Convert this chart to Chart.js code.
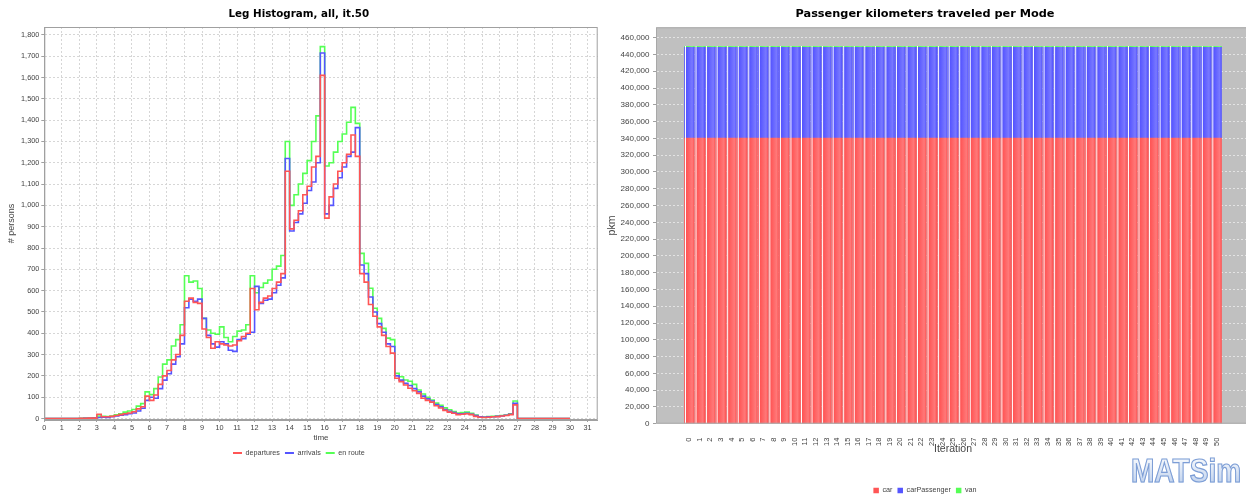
<!DOCTYPE html>
<html>
<head>
<meta charset="utf-8">
<script src="https://cdn.jsdelivr.net/npm/chart.js@4.4.1/dist/chart.umd.min.js"></script>
<style>
  html, body { margin:0; padding:0; background:#fff; width:1246px; height:496px; overflow:hidden; position:relative; }
  canvas { position:absolute; top:0; }
  #logo {
    position:absolute; left:1131px; top:453.7px; font: bold 33px "Liberation Sans", Arial, sans-serif;
    line-height:33px; transform:scaleX(0.85); transform-origin:0 0; white-space:nowrap;
    background: linear-gradient(#ffffff, #b9cdeb); -webkit-background-clip:text; background-clip:text;
    color:transparent; -webkit-text-stroke:1.2px #7d9ed6;
  }
</style>
</head>
<body>
<canvas id="leg" width="604" height="470" style="left:0px"></canvas>
<canvas id="pkm" width="654" height="504" style="left:600px"></canvas>
<div id="logo">MATSim</div>
<script>
// ---------- Leg histogram data (15-minute bins, hours 0..30) ----------
const BIN_HOURS = 0.25;
const departures = [
  0,0,0,0,0,0,0,0,1,1,2,2,
  20,8,8,10,14,18,22,26,32,45,55,105,
  85,110,160,200,225,275,300,390,550,565,545,540,
  420,380,330,360,350,345,340,345,365,385,400,610,
  510,545,565,575,610,640,680,1160,890,930,975,1050,
  1090,1180,1230,1610,940,1040,1100,1160,1200,1240,1330,1230,
  680,640,535,480,430,390,338,307,189,173,157,142,
  130,118,95,85,77,60,49,38,30,25,18,20,
  22,18,10,6,5,6,8,9,12,14,18,64,
  0,0,0,0,0,0,0,0,0,0,0,0,0
];
const arrivals = [
  0,0,0,0,0,0,0,0,0,1,1,2,
  5,6,5,8,12,15,18,22,26,35,48,85,
  100,95,140,180,210,255,290,350,520,560,550,560,
  470,390,350,335,360,350,320,315,370,375,395,405,
  620,540,555,560,590,625,660,1220,880,920,960,1010,
  1070,1110,1200,1715,960,1000,1080,1130,1180,1230,1250,1365,
  720,680,570,500,445,405,350,338,200,180,165,155,
  140,125,105,92,82,66,55,42,34,28,22,22,
  24,20,14,8,6,8,8,10,12,15,20,71,
  0,0,0,0,0,0,0,0,0,0,0,0,0
];
const enRoute = [
  0,0,0,0,0,0,0,0,1,2,2,3,
  12,10,9,12,17,22,30,35,42,58,70,125,
  112,140,195,255,275,340,370,440,670,640,645,610,
  470,415,400,395,430,380,360,385,410,415,440,670,
  590,615,635,650,700,715,765,1300,1000,1050,1100,1150,
  1210,1300,1420,1745,1185,1200,1250,1300,1335,1390,1460,1385,
  775,728,611,517,470,423,377,370,212,196,181,175,
  160,134,115,100,87,72,62,50,41,33,26,28,
  30,24,16,8,7,9,10,11,14,16,22,82,
  0,0,0,0,0,0,0,0,0,0,0,0,0
];
const legSeriesNames = ['departures', 'arrivals', 'en route'];
const legTitle = 'Leg Histogram, all, it.50';

// ---------- Passenger km data ----------
const iterations = [0,1,2,3,4,5,6,7,8,9,10,11,12,13,14,15,16,17,18,19,20,21,22,23,24,25,26,27,28,29,30,31,32,33,34,35,36,37,38,39,40,41,42,43,44,45,46,47,48,49,50];
const carPkm = [340500,340500,340500,340500,340500,340500,340500,340500,340500,340500,340500,340500,340500,340500,340500,340500,340500,340500,340500,340500,340500,340500,340500,340500,340500,340500,340500,340500,340500,340500,340500,340500,340500,340500,340500,340500,340500,340500,340500,340500,340500,340500,340500,340500,340500,340500,340500,340500,340500,340500,340500];
const carPassengerPkm = [108100,108100,108100,108100,108100,108100,108100,108100,108100,108100,108100,108100,108100,108100,108100,108100,108100,108100,108100,108100,108100,108100,108100,108100,108100,108100,108100,108100,108100,108100,108100,108100,108100,108100,108100,108100,108100,108100,108100,108100,108100,108100,108100,108100,108100,108100,108100,108100,108100,108100,108100];
const vanPkm = [1000,1000,1000,1000,1000,1000,1000,1000,1000,1000,1000,1000,1000,1000,1000,1000,1000,1000,1000,1000,1000,1000,1000,1000,1000,1000,1000,1000,1000,1000,1000,1000,1000,1000,1000,1000,1000,1000,1000,1000,1000,1000,1000,1000,1000,1000,1000,1000,1000,1000,1000];
const modeNames = ['car', 'carPassenger', 'van'];
const pkmTicks = [0,20000,40000,60000,80000,100000,120000,140000,160000,180000,200000,220000,240000,260000,280000,300000,320000,340000,360000,380000,400000,420000,440000,460000];
const pkmTitle = 'Passenger kilometers traveled per Mode';

// ---------- helpers ----------
const SANS = '"Liberation Sans", Arial, sans-serif';
const TXT = '#444444';
const toXY = arr => arr.map((v, i) => ({ x: i * BIN_HOURS, y: v }));

const outline = {
  id: 'outline',
  beforeDraw(chart, args, opts) {
    if (!opts.fill) return;
    const { ctx, chartArea: a } = chart;
    ctx.save(); ctx.fillStyle = opts.fill;
    ctx.fillRect(a.left, a.top, a.right - a.left, a.bottom - a.top);
    ctx.restore();
  },
  afterDraw(chart, args, opts) {
    const { ctx, chartArea: a } = chart;
    ctx.save(); ctx.strokeStyle = opts.color || '#999'; ctx.lineWidth = 1;
    ctx.strokeRect(a.left + 0.5, a.top + 0.5, a.right - a.left - 1, a.bottom - a.top - 1);
    ctx.restore();
  }
};

// ---------- Left: leg histogram ----------
const lineColors = ['#ff5555', '#5555ff', '#55ff55'];
new Chart(document.getElementById('leg'), {
  type: 'line',
  data: {
    datasets: [departures, arrivals, enRoute].map((arr, k) => ({
      label: legSeriesNames[k], data: toXY(arr), borderColor: lineColors[k], backgroundColor: lineColors[k],
      borderWidth: 1.6, stepped: true, pointRadius: 0, fill: false
    }))
  },
  options: {
    responsive: false, animation: false, events: [],
    layout: { padding: { left: 0, right: 6.3, top: 0, bottom: 3.4 } },
    plugins: {
      title: { display: true, text: legTitle, color: '#000',
        font: { family: '"DejaVu Sans", sans-serif', weight: 'bold', size: 10.3 }, padding: { top: 7.8, bottom: 6.84 } },
      legend: { position: 'bottom',
        labels: { usePointStyle: true, pointStyle: 'line', pointStyleWidth: 9, boxHeight: 7.2, padding: 5,
          color: TXT, font: { family: SANS, size: 7.2 },
          generateLabels(chart) {
            const items = Chart.defaults.plugins.legend.labels.generateLabels(chart);
            items.forEach(it => { it.lineWidth = 2.2; });
            return items;
          } } },
      tooltip: { enabled: false },
      outline: { color: '#a0a0a0' }
    },
    scales: {
      x: { type: 'linear', min: 0, max: 31.58,
        ticks: { stepSize: 1, autoSkip: false, maxRotation: 0, includeBounds: false, padding: 2, color: TXT, font: { family: SANS, size: 7.3 } },
        grid: { color: '#d6d6d6', tickColor: '#a0a0a0', tickLength: 2 },
        border: { color: '#a0a0a0', dash: [2, 2] },
        title: { display: true, text: 'time', color: TXT, font: { family: SANS, size: 8 }, padding: { top: 0, bottom: 2.1 } },
        afterFit(s) { s.height = 24.4; } },
      y: { type: 'linear', min: -7, max: 1837,
        ticks: { stepSize: 100, includeBounds: false, padding: 2, color: TXT, font: { family: SANS, size: 7.3 },
          callback: v => v.toLocaleString('en-US') },
        grid: { color: '#d6d6d6', tickColor: '#a0a0a0', tickLength: 3 },
        border: { color: '#a0a0a0', dash: [2, 2] },
        title: { display: true, text: '# persons', color: TXT, font: { family: SANS, size: 9 }, padding: { top: 6.6, bottom: 0 } },
        afterFit(s) { s.width = 44.3; } }
    }
  },
  plugins: [outline]
});

// ---------- Right: passenger km stacked bars ----------
const BAR_W = 9.6;
function jfreeGradient(c0, c1) {
  return function (ctx) {
    if (ctx.type !== 'data' || !ctx.parsed) return c0;
    const xs = ctx.chart.scales.x;
    if (!xs) return c0;
    const cx = xs.getPixelForValue(ctx.parsed.x);
    if (!isFinite(cx)) return c0;
    const g = ctx.chart.ctx.createLinearGradient(cx - BAR_W / 2, 0, cx + BAR_W / 2, 0);
    g.addColorStop(0, c0); g.addColorStop(0.1, '#ffffff'); g.addColorStop(0.2, c0);
    g.addColorStop(0.8, c1); g.addColorStop(1, c0);
    return g;
  };
}
const barBase = ['#ff5555', '#5555ff', '#55ff55'];
const barBright = ['#ff7979', '#7979ff', '#79ff79'];
new Chart(document.getElementById('pkm'), {
  type: 'bar',
  data: {
    datasets: [carPkm, carPassengerPkm, vanPkm].map((arr, k) => ({
      label: modeNames[k],
      data: iterations.map((it, i) => ({ x: it, y: arr[i] })),
      backgroundColor: jfreeGradient(barBase[k], barBright[k]),
      borderWidth: 0, barThickness: BAR_W
    }))
  },
  options: {
    responsive: false, animation: false, events: [],
    layout: { padding: { left: 0, right: 4, top: 0, bottom: 0 } },
    plugins: {
      title: { display: true, text: pkmTitle, color: '#000',
        font: { family: '"DejaVu Sans", sans-serif', weight: 'bold', size: 11.3 }, padding: { top: 7.0, bottom: 6.74 } },
      legend: { position: 'bottom',
        labels: { boxWidth: 5.5, boxHeight: 5.5, padding: 5, color: TXT, font: { family: SANS, size: 7.2 } } },
      tooltip: { enabled: false },
      outline: { color: '#a8a8a8', fill: '#c0c0c0' }
    },
    scales: {
      x: { type: 'linear', min: -3.16, max: 53.16, offset: false, stacked: true,
        afterBuildTicks(s) { s.ticks = iterations.map(v => ({ value: v })); },
        ticks: { autoSkip: false, minRotation: 90, maxRotation: 90, padding: 6, color: TXT, font: { family: SANS, size: 7.5 },
          callback: v => String(v) },
        grid: { display: false },
        border: { color: '#d0d0d0' },
        title: { display: true, text: 'Iteration', color: TXT, font: { family: SANS, size: 10.5 }, padding: { top: 0, bottom: 26 } },
        afterFit(s) { s.height = 58.1; } },
      y: { type: 'linear', stacked: true, min: 0, max: 472400,
        afterBuildTicks(s) { s.ticks = pkmTicks.map(v => ({ value: v })); },
        ticks: { autoSkip: false, padding: 3.5, color: TXT, font: { family: SANS, size: 8 },
          callback: v => v.toLocaleString('en-US') },
        grid: { color: 'rgba(255,255,255,0.55)', tickColor: '#a0a0a0', tickLength: 3 },
        border: { color: '#e0e0e0', dash: [2, 2] },
        title: { display: true, text: 'pkm', color: TXT, font: { family: SANS, size: 10.5 }, padding: { top: 5.7, bottom: 0 } },
        afterFit(s) { s.width = 56; } }
    }
  },
  plugins: [outline]
});
</script>
</body>
</html>
